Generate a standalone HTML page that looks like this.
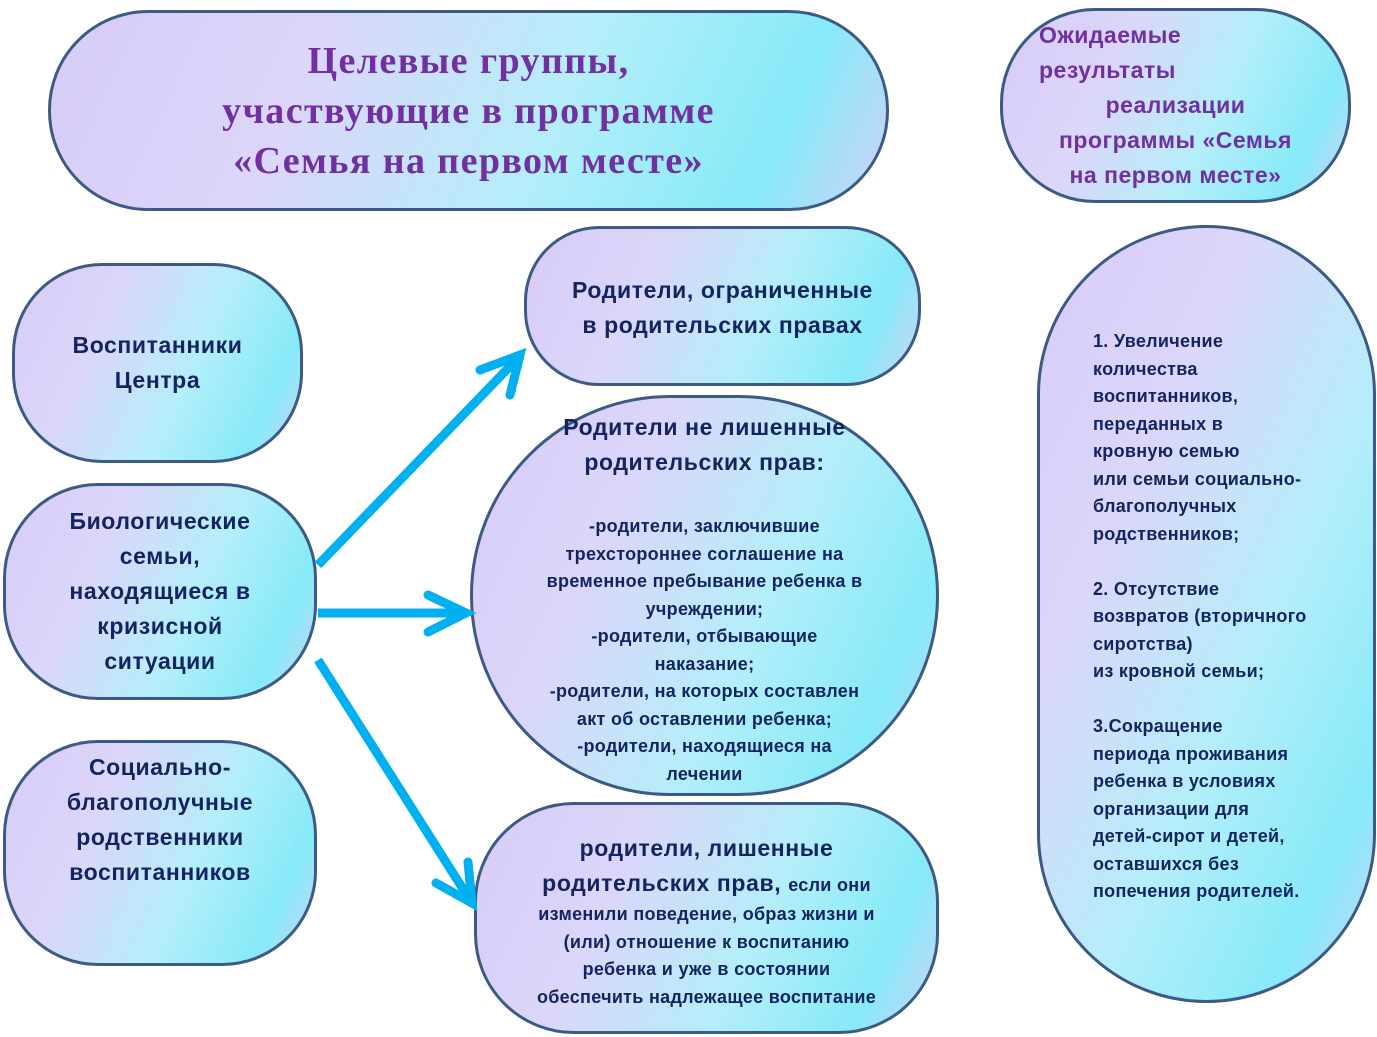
<!DOCTYPE html>
<html><head><meta charset="utf-8">
<style>
body{margin:0;width:1377px;height:1037px;background:#fff;position:relative;overflow:hidden;font-family:"Liberation Sans",sans-serif;}
.b{position:absolute;box-sizing:border-box;border:3px solid #3d5a85;display:flex;flex-direction:column;align-items:center;justify-content:center;text-align:center;color:#142460;font-weight:bold;
background:linear-gradient(115deg,#d6ccf6 0%,#dcd6fa 30%,#b4eefa 60%,#86eaf8 85%,#cfd2f8 100%);}
.h{font-size:23px;line-height:35px;letter-spacing:0.6px;}
.s{font-size:18px;line-height:27.5px;letter-spacing:0.3px;}
</style></head><body>
<div class="b" style="left:48px;top:10px;width:841px;height:201px;border-radius:100px;font-family:'Liberation Serif',serif;color:#7030a0;font-size:38px;letter-spacing:1.4px;line-height:50px;">
<div>Целевые группы,<br>участвующие в программе<br>«Семья на первом месте»</div></div>

<div class="b" style="left:1000px;top:8px;width:351px;height:195px;border-radius:95px;color:#7030a0;font-size:23px;letter-spacing:0.5px;line-height:35px;align-items:flex-start;">
<div style="margin-left:36px;text-align:left">Ожидаемые<br>результаты</div>
<div style="width:100%;text-align:center;">реализации<br>программы «Семья<br>на первом месте»</div></div>

<div class="b h" style="left:12px;top:263px;width:291px;height:200px;border-radius:90px;"><div>Воспитанники<br>Центра</div></div>
<div class="b h" style="left:3px;top:483px;width:314px;height:217px;border-radius:95px;"><div>Биологические<br>семьи,<br>находящиеся в<br>кризисной<br>ситуации</div></div>
<div class="b h" style="left:3px;top:740px;width:314px;height:226px;border-radius:95px;"><div style="margin-top:-66px">Социально-<br>благополучные<br>родственники<br>воспитанников</div></div>

<div class="b h" style="left:524px;top:226px;width:397px;height:160px;border-radius:75px;"><div style="margin-top:4px">Родители, ограниченные<br>в родительских правах</div></div>

<div class="b" style="left:470px;top:395px;width:469px;height:401px;border-radius:200px/200px;justify-content:flex-start;">
<div class="h" style="margin-top:12px">Родители не лишенные<br>родительских прав:</div>
<div class="s" style="margin-top:33px;">-родители,  заключившие<br>трехстороннее соглашение на<br>временное пребывание ребенка в<br>учреждении;<br>-родители, отбывающие<br>наказание;<br>-родители,  на которых составлен<br>акт об оставлении ребенка;<br>-родители, находящиеся на<br>лечении</div></div>

<div class="b" style="left:474px;top:802px;width:465px;height:232px;border-radius:100px;">
<div class="h" style="margin-top:6px">родители,  лишенные<br>родительских прав, <span class="s">если они</span></div>
<div class="s">изменили поведение, образ жизни и<br>(или) отношение к воспитанию<br>ребенка и уже в состоянии<br>обеспечить надлежащее воспитание</div></div>

<div class="b" style="left:1037px;top:225px;width:339px;height:778px;border-radius:170px;align-items:flex-start;justify-content:flex-start;">
<div class="s" style="text-align:left;margin-left:53px;margin-top:100px;">1. Увеличение<br>количества<br>воспитанников,<br>переданных в<br>кровную семью<br>или семьи социально-<br>благополучных<br>родственников;<br><br>2. Отсутствие<br>возвратов (вторичного<br>сиротства)<br>из кровной семьи;<br><br>3.Сокращение<br>периода проживания<br>ребенка в условиях<br>организации для<br>детей-сирот и детей,<br>оставшихся без<br>попечения родителей.</div></div>

<svg width="1377" height="1037" style="position:absolute;left:0;top:0" fill="none" stroke="#00b0f0" stroke-width="9" stroke-linecap="round">
<line x1="318" y1="565" x2="518" y2="358" stroke-linecap="butt"/>
<polyline points="480,370 520,355 510,395"/>
<line x1="318" y1="613" x2="464" y2="613" stroke-linecap="butt"/>
<polyline points="428,595 466,613 428,632"/>
<line x1="318" y1="660" x2="470" y2="900" stroke-linecap="butt"/>
<polyline points="436,883 472,903 468,862"/>
</svg>
</body></html>
